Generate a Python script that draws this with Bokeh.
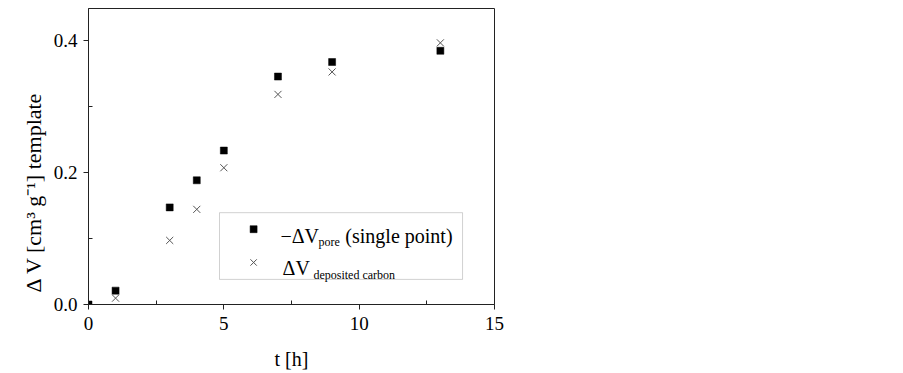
from bokeh.plotting import figure
from bokeh.models import (Range1d, FixedTicker, Label, BoxAnnotation, Title,
                          ColumnDataSource)
from bokeh.embed import file_html
from bokeh.resources import INLINE

# ---- data ----
t_pore = [0, 1, 3, 4, 5, 7, 9, 13]
dv_pore = [0.0, 0.021, 0.147, 0.188, 0.233, 0.345, 0.367, 0.384]
t_carbon = [1, 3, 4, 5, 7, 9, 13]
dv_carbon = [0.0096, 0.097, 0.144, 0.207, 0.318, 0.352, 0.396]

x_ticks = [0, 5, 10, 15]
x_minor = [2.5, 7.5, 12.5]
y_ticks = [0.0, 0.2, 0.4]
y_labels = ["0.0", "0.2", "0.4"]
y_minor = [0.1, 0.3]

FONT = "Liberation Serif"
AX = "#222222"

p = figure(width=530, height=373, output_backend="svg", toolbar_location=None,
           x_range=Range1d(0, 15), y_range=Range1d(0, 0.448),
           min_border_left=88, min_border_right=36, min_border_top=8,
           min_border_bottom=69)
p.grid.visible = False
p.outline_line_color = AX
p.outline_line_width = 1
p.background_fill_color = "white"
p.border_fill_color = "white"

for ax in (p.xaxis[0], p.yaxis[0]):
    ax.axis_line_color = AX
    ax.major_tick_line_color = AX
    ax.minor_tick_line_color = AX
    ax.major_tick_out = 5
    ax.major_tick_in = 0
    ax.minor_tick_out = 0
    ax.minor_tick_in = 4
    ax.major_label_text_font = FONT
    ax.major_label_text_font_size = "19px"
    ax.major_label_text_color = "black"
    ax.axis_label_text_font = FONT
    ax.axis_label_text_font_size = "20px"
    ax.axis_label_text_font_style = "normal"
    ax.axis_label_text_color = "black"

p.xaxis.ticker = FixedTicker(ticks=x_ticks, minor_ticks=x_minor)
p.yaxis.ticker = FixedTicker(ticks=y_ticks, minor_ticks=y_minor)
p.yaxis.major_label_overrides = {v: s for v, s in zip(y_ticks, y_labels)}
p.xaxis.major_label_standoff = 7
p.yaxis.major_label_standoff = 6
p.xaxis.axis_label = "t [h]"
p.xaxis.axis_label_standoff = 15

ytitle = Title(text="\u0394 V [cm\u00b3 g\u207b\u00b9] template", align="left",
               text_font=FONT, text_font_size="22px", text_font_style="normal",
               text_color="black", offset=12, standoff=10)
p.add_layout(ytitle, "left")

# ---- data marks ----
src_p = ColumnDataSource(dict(x=t_pore, y=dv_pore))
src_c = ColumnDataSource(dict(x=t_carbon, y=dv_carbon))
p.scatter("x", "y", source=src_p, marker="square", size=7,
          fill_color="black", line_color="black", line_width=0.5)
p.scatter("x", "y", source=src_c, marker="x", size=10,
          line_color="#555555", line_width=1)

# ---- legend (drawn manually to allow subscripts) ----
box = BoxAnnotation(left=4.84, right=13.82, bottom=0.038, top=0.139,
                    fill_color="white", fill_alpha=1.0,
                    line_color="#666666", line_width=1, level="underlay")
p.add_layout(box)
p.scatter([6.10], [0.114], marker="square", size=7,
          fill_color="black", line_color="black", line_width=0.5)
p.scatter([6.10], [0.0636], marker="x", size=9,
          line_color="#555555", line_width=1)

def lab(x, y, text, size):
    p.add_layout(Label(x=x, y=y, text=text, text_font=FONT,
                       text_font_size=size, text_color="black",
                       text_baseline="alphabetic", text_align="left"))

lab(7.09, 0.103, "\u2212\u0394V", "20px")
lab(8.50, 0.094, "pore", "12px")
lab(9.49, 0.103, "(single point)", "20px")
lab(7.17, 0.056, "\u0394V", "20px")
lab(8.31, 0.0440, "deposited carbon", "12px")

open("out.html", "w").write(file_html(p, INLINE))
